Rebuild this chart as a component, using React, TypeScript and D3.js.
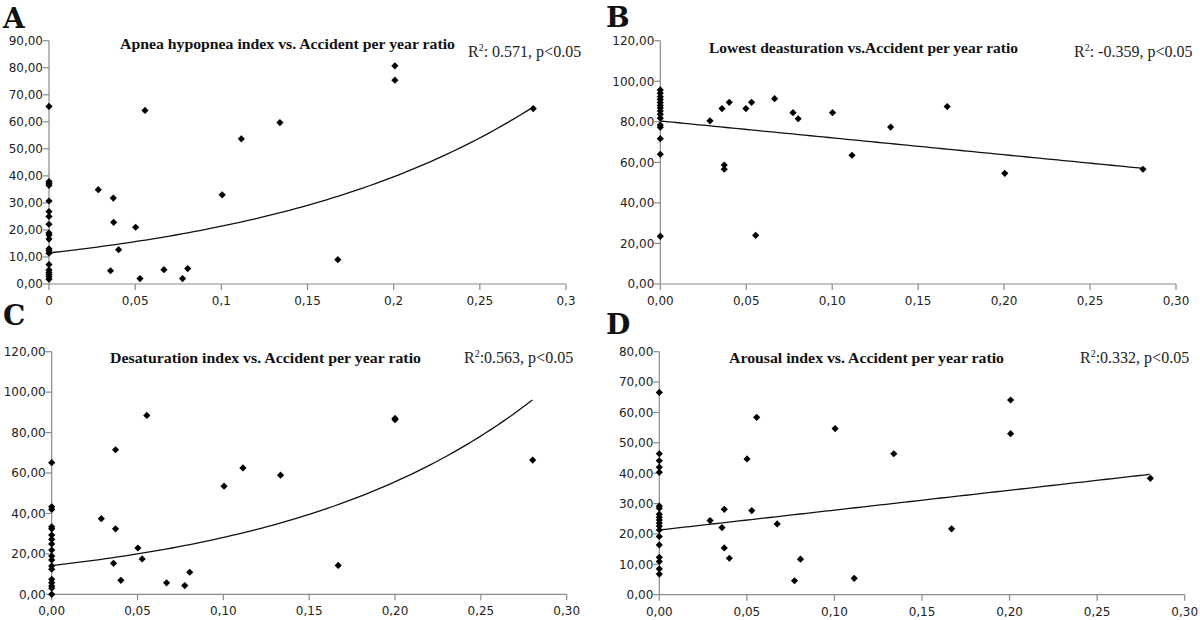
import React from "react";
import * as d3 from "d3";

// ---------- DATA ----------
const xTicks = [0, 0.05, 0.1, 0.15, 0.2, 0.25, 0.3];
const xTickLabelsA = ["0", "0,05", "0,1", "0,15", "0,2", "0,25", "0,3"];
const xTickLabelsOther = ["0,00", "0,05", "0,10", "0,15", "0,20", "0,25", "0,30"];

// Panel A: Apnea hypopnea index
const aZeroY = [65.7, 37.9, 37.2, 36.5, 30.7, 26.8, 25.0, 22.1, 18.9, 18.1, 16.6, 13.0, 12.3, 11.4, 7.2, 5.2, 4.3, 3.5, 2.7, 1.8];
const aX = [0.0286, 0.0357, 0.0373, 0.0375, 0.0404, 0.0503, 0.0528, 0.0557, 0.0667, 0.0775, 0.0805, 0.1005, 0.1116, 0.134, 0.1676, 0.2007, 0.2007, 0.281];
const aY = [34.9, 4.9, 31.8, 22.8, 12.7, 21.0, 2.0, 64.2, 5.3, 2.0, 5.7, 33.0, 53.7, 59.7, 9.0, 80.7, 75.4, 64.9];

// Panel B: Lowest desaturation
const bZeroY = [95.7, 94.1, 92.4, 91.0, 89.5, 88.0, 86.8, 85.3, 83.7, 81.8, 78.4, 77.3, 71.7, 64.0, 23.5];
const bX = [0.0289, 0.0359, 0.0372, 0.0372, 0.0401, 0.0498, 0.0531, 0.0555, 0.0665, 0.0772, 0.0802, 0.1002, 0.1115, 0.134, 0.1669, 0.2004, 0.2808];
const bY = [80.5, 86.5, 58.7, 56.6, 89.6, 86.5, 89.6, 24.0, 91.4, 84.5, 81.5, 84.5, 63.5, 77.4, 87.5, 54.6, 56.6];

// Panel C: Desaturation index
const cZeroY = [65.1, 43.3, 42.0, 33.4, 32.4, 29.3, 27.2, 24.9, 21.9, 18.9, 17.0, 14.0, 12.4, 7.4, 5.7, 4.1, 3.0, 0.0];
const cX = [0.0289, 0.036, 0.0372, 0.0372, 0.0403, 0.0502, 0.0527, 0.0554, 0.0669, 0.0775, 0.0804, 0.1004, 0.1114, 0.1333, 0.1669, 0.2, 0.2, 0.2802];
const cY = [37.4, 15.3, 71.5, 32.4, 6.9, 22.9, 17.5, 88.5, 5.7, 4.3, 10.9, 53.5, 62.5, 58.9, 14.3, 87.0, 86.4, 66.4];

// Panel D: Arousal index
const dZeroY = [66.6, 46.4, 44.1, 42.0, 40.3, 29.2, 28.5, 26.5, 25.5, 24.6, 23.6, 22.6, 21.3, 19.2, 16.4, 12.3, 10.9, 8.5, 6.8];
const dX = [0.029, 0.0358, 0.0371, 0.0371, 0.04, 0.0501, 0.0528, 0.0556, 0.0673, 0.0772, 0.0806, 0.1004, 0.1113, 0.1339, 0.1669, 0.2006, 0.2006, 0.2804];
const dY = [24.4, 22.1, 28.1, 15.4, 12.0, 44.7, 27.7, 58.4, 23.3, 4.6, 11.7, 54.7, 5.4, 46.4, 21.7, 64.1, 53.0, 38.3];

// Trendlines (Excel fits)
const trendA = { type: "exp", a: 11.5, b: 6.19 };
const trendB = { type: "lin", a: 80.4, b: -83.2 };
const trendC = { type: "exp", a: 14.2, b: 6.83 };
const trendD = { type: "lin", a: 21.3, b: 65.4 };
const trendXMax = 0.28;

const titles = [
  "Apnea hypopnea index vs. Accident per year ratio",
  "Lowest deasturation vs.Accident per year ratio",
  "Desaturation index vs. Accident per year ratio",
  "Arousal index vs. Accident per year ratio",
];
const stats = [": 0.571, p<0.05", ": -0.359, p<0.05", ":0.563, p<0.05", ":0.332, p<0.05"];
const letters = ["A", "B", "C", "D"];
const yMaxes = [90, 120, 120, 80];
const ySteps = [10, 20, 20, 10];

// ---------- LAYOUT ----------
const layouts = [
  { x0: 49, x1: 566, y0: 284, y1: 40.7, letterX: 3, letterY: 27.5, titleX: 120, titleY: 48.5, titleW: 335, statX: 468, statY: 56.5, statW: 113 },
  { x0: 660.3, x1: 1176, y0: 284, y1: 40.7, letterX: 606, letterY: 26.5, titleX: 709, titleY: 52.5, titleW: 309, statX: 1074, statY: 56.5, statW: 119 },
  { x0: 51.7, x1: 566.7, y0: 594.3, y1: 351.7, letterX: 3, letterY: 325, titleX: 110, titleY: 362.5, titleW: 311, statX: 464, statY: 362.5, statW: 109 },
  { x0: 659.3, x1: 1184.7, y0: 594.7, y1: 351.7, letterX: 606, letterY: 334, titleX: 729, titleY: 362.5, titleW: 275, statX: 1080, statY: 362.5, statW: 113 },
];

const AXIS = "#8a8a8a";
const fmtY = (v: number) => d3.format(".2f")(v).replace(".", ",");

function Panel({ idx, xs, ys, trend, xLabels }: any) {
  const L = layouts[idx];
  const x = d3.scaleLinear().domain([0, 0.3]).range([L.x0, L.x1]);
  const y = d3.scaleLinear().domain([0, yMaxes[idx]]).range([L.y0, L.y1]);
  const yTicks = d3.range(0, yMaxes[idx] + 0.001, ySteps[idx]);
  const f = (t: number) => (trend.type === "exp" ? trend.a * Math.exp(trend.b * t) : trend.a + trend.b * t);
  const samples = d3.range(0, trendXMax + 1e-9, trendXMax / 80);
  const line = d3.line<number>().x((t) => x(t)).y((t) => y(f(t)));
  const half = 3.6;
  return (
    <g>
      <text x={L.letterX} y={L.letterY} fontFamily="'DejaVu Serif', serif" fontWeight="bold" fontSize={28} fill="#111">
        {letters[idx]}
      </text>
      <text x={L.titleX} y={L.titleY} fontFamily="'Liberation Serif', 'Times New Roman', serif" fontWeight="bold" fontSize={15} fill="#111" textLength={L.titleW} lengthAdjust="spacingAndGlyphs">
        {titles[idx]}
      </text>
      <text x={L.statX} y={L.statY} fontFamily="'Liberation Serif', 'Times New Roman', serif" fontSize={16} fill="#222">
        R<tspan fontSize={10} dy={-6}>2</tspan>
        <tspan dy={6}>{stats[idx]}</tspan>
      </text>
      {/* axes */}
      <line x1={L.x0} x2={L.x0} y1={L.y0} y2={L.y1} stroke={AXIS} strokeWidth={1.2} />
      <line x1={L.x0} x2={L.x1} y1={L.y0} y2={L.y0} stroke={AXIS} strokeWidth={1.2} />
      {yTicks.map((v) => (
        <g key={"y" + v}>
          <line x1={L.x0 - 6} x2={L.x0} y1={y(v)} y2={y(v)} stroke={AXIS} strokeWidth={1.2} />
          <text x={L.x0 - 6} y={y(v)} dy="0.36em" textAnchor="end" fontFamily="'DejaVu Sans', Verdana, sans-serif" fontSize={12} fill="#222">
            {fmtY(v)}
          </text>
        </g>
      ))}
      {xTicks.map((v, i) => (
        <g key={"x" + v}>
          <line x1={x(v)} x2={x(v)} y1={L.y0} y2={L.y0 + 6} stroke={AXIS} strokeWidth={1.2} />
          <text x={x(v)} y={L.y0 + 21} textAnchor="middle" fontFamily="'DejaVu Sans', Verdana, sans-serif" fontSize={12} fill="#222">
            {xLabels[i]}
          </text>
        </g>
      ))}
      <path d={line(samples) || ""} fill="none" stroke="#111" strokeWidth={1.3} />
      {xs.map((xv: number, i: number) => {
        const cx = x(xv);
        const cy = y(ys[i]);
        return (
          <path key={i} d={`M${cx},${cy - half}L${cx + half},${cy}L${cx},${cy + half}L${cx - half},${cy}Z`} fill="#000" />
        );
      })}
    </g>
  );
}

const withZeros = (zeros: number[], xs: number[], ys: number[]) => ({
  xs: zeros.map(() => 0).concat(xs),
  ys: zeros.concat(ys),
});

export default function App() {
  const A = withZeros(aZeroY, aX, aY);
  const B = withZeros(bZeroY, bX, bY);
  const C = withZeros(cZeroY, cX, cY);
  const D = withZeros(dZeroY, dX, dY);
  return (
    <svg width={1200} height={620} style={{ position: "absolute", left: 0, top: 0, background: "#fff" }}>
      <rect width={1200} height={620} fill="#fff" />
      <Panel idx={0} xs={A.xs} ys={A.ys} trend={trendA} xLabels={xTickLabelsA} />
      <Panel idx={1} xs={B.xs} ys={B.ys} trend={trendB} xLabels={xTickLabelsOther} />
      <Panel idx={2} xs={C.xs} ys={C.ys} trend={trendC} xLabels={xTickLabelsOther} />
      <Panel idx={3} xs={D.xs} ys={D.ys} trend={trendD} xLabels={xTickLabelsOther} />
    </svg>
  );
}
